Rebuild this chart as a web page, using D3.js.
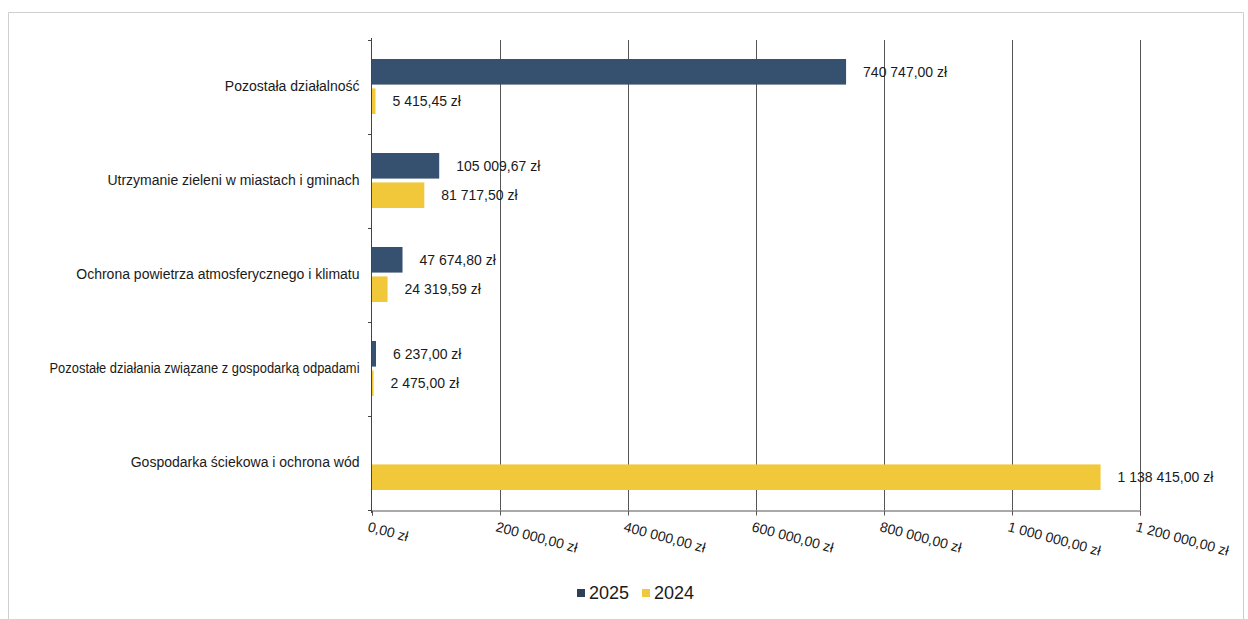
<!DOCTYPE html>
<html><head><meta charset="utf-8">
<script src="https://cdn.jsdelivr.net/npm/d3@7"></script>
<style>body{margin:0;background:#fff}svg{display:block}text{font-family:"Liberation Sans",Arial,sans-serif;fill:#1a1a1a}</style>
</head><body><svg id="c" width="1248" height="619"></svg>
<script>
const categories = ["Pozostała działalność","Utrzymanie zieleni w miastach i gminach","Ochrona powietrza atmosferycznego i klimatu","Pozostałe działania związane z gospodarką odpadami","Gospodarka ściekowa i ochrona wód"];
const series = ["2025","2024"];
const values2025 = [740747.00, 105009.67, 47674.80, 6237.00, 0];
const values2024 = [5415.45, 81717.50, 24319.59, 2475.00, 1138415.00];
const xTicks = [0,200000,400000,600000,800000,1000000,1200000];
const colors = {"2025":"#36516f","2024":"#f0c83a"};

const svg = d3.select("#c");
const m = {l:372, r:1140, t:40, b:510};
const x = d3.scaleLinear().domain([0,1200000]).range([m.l,m.r]);
const y = d3.scaleBand().domain(categories).range([m.t,m.b]).paddingInner(0).paddingOuter(0);
const y1 = d3.scaleBand().domain(series).range([19, 94-20]).paddingInner(0.13);

function fmt(v){
  const s = v.toFixed(2).split(".");
  const int = s[0].replace(/\B(?=(\d{3})+(?!\d))/g," ");
  return int + "," + s[1] + " zł";
}

// page border
svg.append("path").attr("d","M8.5,619 V12.5 H1243.5 V619").attr("fill","none").attr("stroke","#cfcfcf").attr("stroke-width",1);

// gridlines
svg.append("g").selectAll("line").data(xTicks.slice(1)).join("line")
  .attr("x1",d=>Math.round(x(d))+0.5).attr("x2",d=>Math.round(x(d))+0.5)
  .attr("y1",m.t).attr("y2",m.b).attr("stroke","#555").attr("stroke-width",1);

// x axis
const xa = svg.append("g").attr("transform",`translate(0,${m.b+0.5})`)
  .call(d3.axisBottom(x).tickValues(xTicks).tickSize(5).tickFormat(fmt));
xa.select(".domain").attr("stroke","#555");
xa.selectAll(".tick line").attr("stroke","#555");
xa.selectAll(".tick text").attr("font-size",14).attr("text-anchor","start")
  .attr("transform","translate(-2,7) rotate(15)").attr("y",4).attr("dy","0.71em").attr("x",0)
  .style("font-family","'Liberation Sans',Arial,sans-serif").attr("fill","#1a1a1a");

// y axis
const ya = svg.append("g").attr("transform",`translate(${m.l-0.5},0)`)
  .call(d3.axisLeft(y).tickSize(0).tickFormat(d=>d).tickPadding(12));
ya.select(".domain").attr("stroke","#444").attr("d",`M0,${m.t-2}V${m.b+3}`);
ya.selectAll(".tick text").attr("font-size",14).style("font-family","'Liberation Sans',Arial,sans-serif").attr("fill","#1a1a1a")
  .each(function(){ const w=this.getComputedTextLength(); if(w>310){ d3.select(this).attr("textLength",310).attr("lengthAdjust","spacingAndGlyphs"); } });
// boundary ticks
svg.append("g").selectAll("line").data(categories).join("line")
  .attr("x1",m.l-4).attr("x2",m.l).attr("y1",d=>y(d)+0.5).attr("y2",d=>y(d)+0.5).attr("stroke","#444");
svg.append("line").attr("x1",m.l-4).attr("x2",m.l).attr("y1",m.b+0.5).attr("y2",m.b+0.5).attr("stroke","#444");

// bars
const rows = categories.map((c,i)=>({c, v:{"2025":values2025[i],"2024":values2024[i]}}));
const g = svg.append("g").selectAll("g").data(rows).join("g").attr("transform",d=>`translate(0,${y(d.c)})`);
g.selectAll("rect").data(d=>series.map(s=>({s,v:d.v[s]}))).join("rect")
  .attr("x",x(0)).attr("y",d=>y1(d.s)).attr("height",y1.bandwidth())
  .attr("width",d=>x(d.v)-x(0)).attr("fill",d=>colors[d.s]);
g.selectAll("text.val").data(d=>series.map(s=>({s,v:d.v[s]})).filter(d=>d.v>0)).join("text")
  .attr("class","val").attr("x",d=>x(d.v)+17).attr("y",d=>y1(d.s)+y1.bandwidth()/2)
  .attr("dy","0.35em").attr("font-size",14).text(d=>fmt(d.v));

// legend
const lg = svg.append("g").attr("transform","translate(577,593)");
const li = lg.selectAll("g").data(series).join("g").attr("transform",(d,i)=>`translate(${i*65},0)`);
li.append("rect").attr("x",0).attr("y",-4).attr("width",8).attr("height",8).attr("fill",d=>d==="2025"?"#2e3f57":"#f0c83a");
li.append("text").attr("x",12).attr("y",0).attr("dy","0.36em").attr("font-size",18).text(d=>d);
</script></body></html>
